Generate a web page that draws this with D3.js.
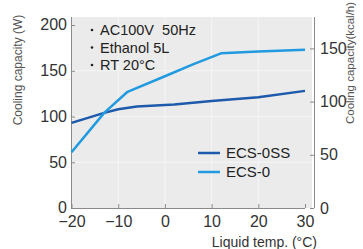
<!DOCTYPE html>
<html>
<head>
<meta charset="utf-8">
<script src="https://cdn.jsdelivr.net/npm/d3@7"></script>
<style>
  body { margin: 0; background: #fff; }
  svg { display: block; font-family: Arial, "Liberation Sans", sans-serif; }
</style>
</head>
<body>
<div id="chart"></div>
<script>
// liquid temp (°C) and cooling capacity (W)
const tempSS = [-20, -13, -10, -6, 2, 10, 20, 30];
const capSS = [93, 104, 108, 111, 113, 117, 121, 128];
const temp0 = [-20, -13, -8, 0, 6, 12, 20, 30];
const cap0 = [61, 104, 127, 144, 157, 169, 171, 173];

const xTicks = [-20, -10, 0, 10, 20, 30];
const yTicks = [0, 50, 100, 150, 200];
const kcalTicks = [0, 50, 100, 150];
const notes = ["AC100V\u00A0\u00A050Hz", "Ethanol 5L", "RT 20\u00B0C"];

const series = [
  { name: "ECS-0SS", color: "#1d5aab", t: tempSS, v: capSS },
  { name: "ECS-0", color: "#219ae0", t: temp0, v: cap0 }
];

const width = 363, height = 249;
const plotL = 71, plotR = 305, plotT = 17, plotB = 208;

const svg = d3.select("#chart").append("svg")
  .attr("width", width)
  .attr("height", height);

const x = d3.scaleLinear().domain([-20, 30]).range([plotL + 0.5, plotR]);
const y = d3.scaleLinear().domain([0, 200]).range([plotB, 25]);
// 1 W = 0.86 kcal/h
const yk = d3.scaleLinear().domain([0, 200 * 0.86]).range([plotB, 25]);

// plot background
svg.append("rect")
  .attr("x", plotL).attr("y", plotT)
  .attr("width", 312 - plotL).attr("height", plotB - plotT)
  .attr("fill", "#ebebeb");

// faint grid
svg.append("g")
  .selectAll("line")
  .data(yTicks.slice(1, 4))
  .join("line")
  .attr("x1", plotL).attr("x2", 312)
  .attr("y1", d => y(d)).attr("y2", d => y(d))
  .attr("stroke", "#f6f6f6").attr("stroke-width", 1);
svg.append("g")
  .selectAll("line")
  .data(xTicks.slice(1, 5))
  .join("line")
  .attr("x1", d => x(d)).attr("x2", d => x(d))
  .attr("y1", plotT).attr("y2", plotB)
  .attr("stroke", "#f6f6f6").attr("stroke-width", 1);

// axes
const axisColor = "#8a8a8a";
const gx = svg.append("g")
  .attr("transform", `translate(0,${plotB})`)
  .call(d3.axisBottom(x).tickValues(xTicks).tickSizeInner(-4).tickSizeOuter(0)
    .tickFormat(d => d < 0 ? "\u2212" + Math.abs(d) : d));
gx.select(".domain").attr("stroke", axisColor).attr("d", `M${plotL},0.5H${plotR}`);
gx.selectAll(".tick line").attr("stroke", axisColor);
gx.selectAll(".tick text")
  .attr("y", 8).attr("dy", "0.71em")
  .attr("fill", "#333").style("font-size", "16px");

const gy = svg.append("g")
  .attr("transform", `translate(${plotL},0)`)
  .call(d3.axisLeft(y).tickValues(yTicks).tickSizeInner(-4).tickSizeOuter(0));
gy.select(".domain").attr("stroke", axisColor).attr("d", `M0.5,${plotT}V${plotB}`);
gy.selectAll(".tick line").attr("stroke", axisColor);
gy.selectAll(".tick text")
  .attr("x", -4).attr("dy", "0.3em")
  .attr("fill", "#333").style("font-size", "16px");

const gr = svg.append("g")
  .attr("transform", `translate(314,0)`)
  .call(d3.axisRight(yk).tickValues(kcalTicks).tickSizeInner(-4).tickSizeOuter(0));
gr.select(".domain").attr("stroke", axisColor).attr("d", `M0.5,${plotT}V${plotB}`);
gr.selectAll(".tick line").attr("stroke", axisColor);
gr.selectAll(".tick text")
  .attr("x", 6)
  .attr("fill", "#333").style("font-size", "16px");

// axis titles
svg.append("text")
  .attr("transform", "translate(22,70) rotate(-90)")
  .attr("text-anchor", "middle")
  .attr("fill", "#555").style("font-size", "12px")
  .text("Cooling capacity (W)");
svg.append("text")
  .attr("transform", "translate(354,124) rotate(-90)")
  .attr("text-anchor", "start")
  .attr("fill", "#555").style("font-size", "11.5px")
  .text("Cooling capacity(kcal/h)");
svg.append("text")
  .attr("x", 317).attr("y", 247)
  .attr("text-anchor", "end")
  .attr("fill", "#333").style("font-size", "14px")
  .text("Liquid temp. (\u00B0C)");

// lines
const line = d3.line()
  .x(d => x(d[0]))
  .y(d => y(d[1]));

svg.append("g")
  .attr("fill", "none")
  .selectAll("path")
  .data(series)
  .join("path")
  .attr("d", d => line(d.t.map((t, i) => [t, d.v[i]])))
  .attr("stroke", d => d.color)
  .attr("stroke-width", 2.5)
  .attr("stroke-linejoin", "round");

// condition notes
const noteG = svg.append("g").attr("fill", "#222");
noteG.selectAll("circle")
  .data(notes)
  .join("circle")
  .attr("cx", 92)
  .attr("cy", (d, i) => 30 + i * 17.5)
  .attr("r", 1.3);
noteG.selectAll("text")
  .data(notes)
  .join("text")
  .attr("x", 100)
  .attr("y", (d, i) => 35 + i * 17.5)
  .style("font-size", "14.5px")
  .text(d => d);

// legend
const leg = svg.append("g")
  .selectAll("g")
  .data(series)
  .join("g")
  .attr("transform", (d, i) => `translate(198,${153 + i * 19})`);
leg.append("line")
  .attr("x1", 0).attr("x2", 22)
  .attr("stroke", d => d.color).attr("stroke-width", 2.5);
leg.append("text")
  .attr("x", 28).attr("dy", "0.35em")
  .attr("fill", "#222").style("font-size", "15px")
  .text(d => d.name);
</script>
</body>
</html>
